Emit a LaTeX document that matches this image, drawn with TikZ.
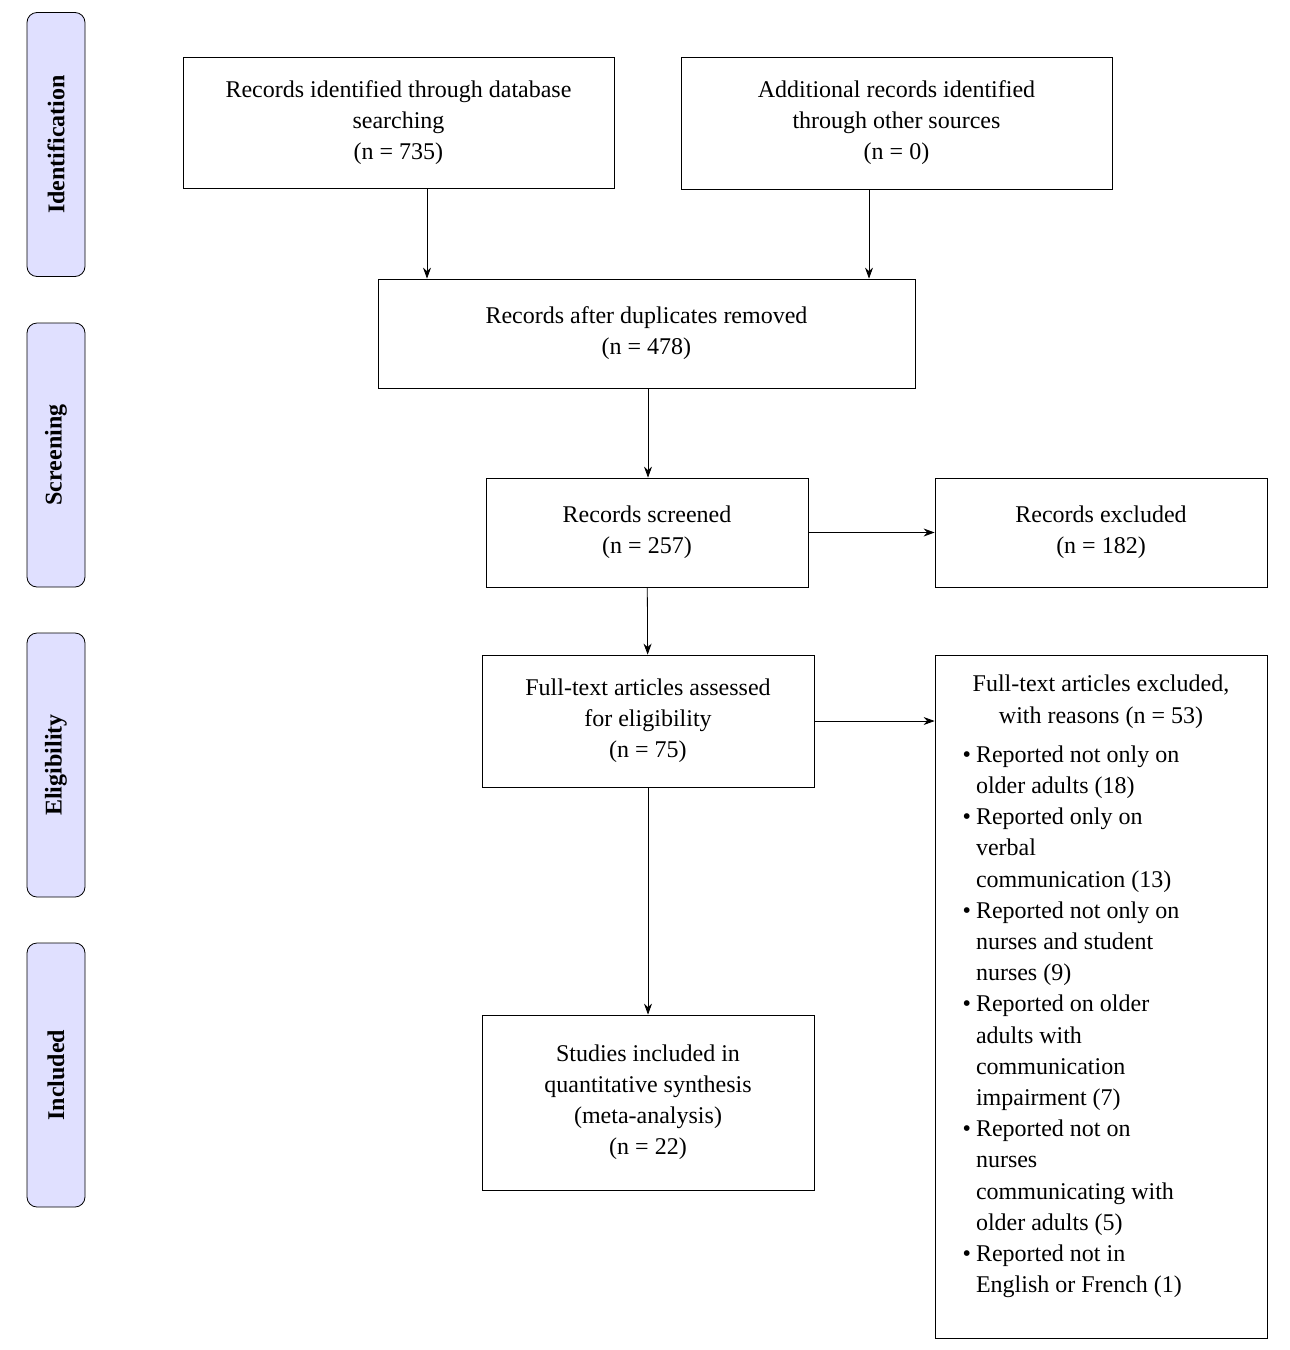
\documentclass[tikz,border=0pt]{standalone}
\usepackage{fontspec}
\setmainfont{Liberation Serif}
\usetikzlibrary{arrows.meta}
\begin{document}
\begin{tikzpicture}[x=1pt,y=-1pt,
    box/.style={draw,thick,align=center,inner sep=0pt,font=\fontsize{24}{31}\selectfont},
    phase/.style={draw,thick,rounded corners=10pt,fill=blue!12,minimum width=58pt,minimum height=264pt,
      inner sep=0pt,font=\fontsize{24}{28}\selectfont\bfseries},
    arr/.style={thick,-{Stealth[length=11pt,width=8pt]}}]
  \useasboundingbox (0,0) rectangle (1290,1350);
  % phase labels
  \foreach \y/\t [count=\i] in {144.5/Identification,455/Screening,765/Eligibility,1075/Included}
    \node[phase] (ph\i) at (56,\y) {\rotatebox{90}{\t}};
  % boxes
  \node[box,minimum width=431pt,minimum height=131pt] (db) at (398.5,122.5)
    {Records identified through database\\searching\\(n = 735)};
  \node[box,minimum width=431pt,minimum height=132pt] (other) at (896.5,123)
    {Additional records identified\\through other sources\\(n = 0)};
  \node[box,minimum width=537pt,minimum height=109pt] (dup) at (646.5,333.5)
    {Records after duplicates removed\\(n = 478)};
  \node[box,minimum width=322pt,minimum height=109pt] (screen) at (647,532.5)
    {Records screened\\(n = 257)};
  \node[box,minimum width=332pt,minimum height=109pt] (excl) at (1101,532.5)
    {Records excluded\\(n = 182)};
  \node[box,minimum width=332pt,minimum height=132pt] (full) at (648,721)
    {Full-text articles assessed\\for eligibility\\(n = 75)};
  \node[box,minimum width=332pt,minimum height=175pt] (incl) at (648,1102.5)
    {Studies included in\\quantitative synthesis\\(meta-analysis)\\(n = 22)};
  \node[box,minimum width=332pt,minimum height=683pt,anchor=north] (fexcl) at (1101,655) {};
  \node[font=\fontsize{24}{31.2}\selectfont,anchor=north,inner sep=0pt] at (1101,675) {%
    \begin{minipage}{300pt}
      \centering Full-text articles excluded,\\with reasons (n = 53)
      \begin{itemize}\setlength{\itemsep}{0pt}\setlength{\parskip}{0pt}\setlength{\topsep}{0pt}
        \setlength{\leftmargin}{45pt}\raggedright
        \item Reported not only on\\older adults (18)
        \item Reported only on\\verbal\\communication (13)
        \item Reported not only on\\nurses and student\\nurses (9)
        \item Reported on older\\adults with\\communication\\impairment (7)
        \item Reported not on\\nurses\\communicating with\\older adults (5)
        \item Reported not in\\English or French (1)
      \end{itemize}
    \end{minipage}};
  % arrows
  \draw[arr] (db.south -| 427,0) -- (dup.north -| 427,0);
  \draw[arr] (other.south -| 869,0) -- (dup.north -| 869,0);
  \draw[arr] (dup.south -| 648,0) -- (screen.north -| 648,0);
  \draw[arr] (screen) -- (excl);
  \draw[arr] (screen) -- (full);
  \draw[arr] (full.east) -- (fexcl.west |- full.east);
  \draw[arr] (full) -- (incl);
\end{tikzpicture}
\end{document}
